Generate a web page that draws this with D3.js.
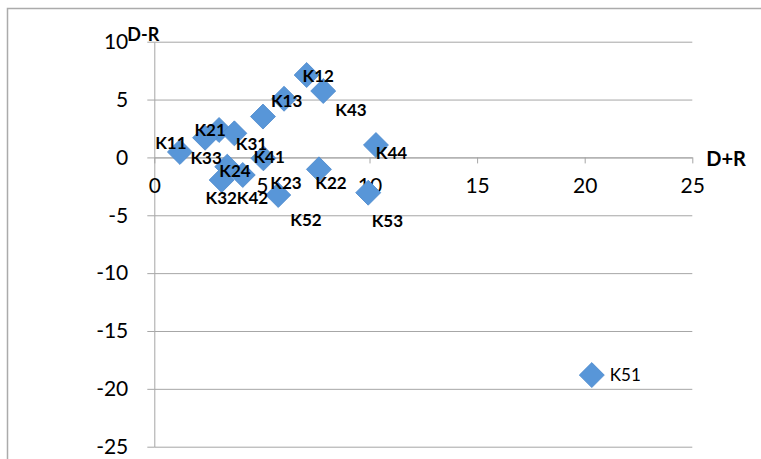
<!DOCTYPE html>
<html>
<head>
<meta charset="utf-8">
<script src="https://cdn.jsdelivr.net/npm/d3@7/dist/d3.min.js"></script>
<style>
  body { margin: 0; background: #fff; }
  svg { display: block; }
  text { font-family: Lato, "Noto Sans", "Liberation Sans", sans-serif; fill: #000; }
</style>
</head>
<body>
<svg id="chart" width="761" height="459"></svg>
<script>
// Factor codes with their prominence (D+R) and relation (D-R) values
const factors = ["K11", "K12", "K13", "K21", "K22", "K23", "K24", "K31", "K32",
                 "K33", "K41", "K42", "K43", "K44", "K51", "K52", "K53"];
const dPlusR  = [1.19, 7.08, 6.03, 3.01, 7.65, 5.05, 3.39, 3.72, 3.13,
                 2.36, 5.07, 4.11, 7.85, 10.30, 20.33, 5.76, 9.94];
const dMinusR = [0.47, 7.12, 5.07, 2.37, -1.03, 3.53, -0.80, 2.08, -1.95,
                 1.70, -0.08, -1.52, 5.74, 1.07, -18.81, -3.25, -3.05];

const xTicks = [0, 5, 10, 15, 20, 25];
const yTicks = [10, 5, 0, -5, -10, -15, -20, -25];
const xTitle = "D+R";
const yTitle = "D-R";

// Hand-placed label nudges (px from the marker centre), so crowded labels stay legible
const labelNudge = {
  K11: [-9, -9.5], K12: [11.6, 0.8], K13: [2.5, 2.3], K21: [-9, 0],
  K22: [12, 13.7], K23: [23, 66.5], K24: [7.7, 4.3], K31: [17.2, 10.7],
  K32: [-0.4, 17.5], K33: [1, 19.8], K41: [5.7, -1.3], K42: [9.8, 22.5],
  K43: [27.7, 19], K44: [15.5, 8], K52: [27.7, 24.5], K53: [19.2, 28.3]
};

const points = factors.map((name, i) => ({ name, x: dPlusR[i], y: dMinusR[i] }));

const svg = d3.select("#chart");
const gray = "#A6A6A6";

const x = d3.scaleLinear().domain([0, 25]).range([154.3, 692.3]);
const y = d3.scaleLinear().domain([-25, 10]).range([446.7, 41.7]);

// chart area frame (left and top edges)
svg.append("path")
  .attr("d", "M7.5,459V8.5H761")
  .attr("fill", "none").attr("stroke", "#ABABAB").attr("stroke-width", 1.5);

// horizontal gridlines
svg.append("g")
  .attr("transform", `translate(${x(0)},0)`)
  .call(d3.axisRight(y).tickValues(yTicks).tickSize(x(25) - x(0)).tickFormat(""))
  .call(g => g.select(".domain").remove())
  .call(g => g.selectAll("line").attr("stroke", gray));

// vertical axis with outside ticks
svg.append("g")
  .attr("transform", `translate(${x(0)},0)`)
  .call(d3.axisLeft(y).tickValues(yTicks).tickSizeInner(7).tickSizeOuter(0)
          .tickPadding(19).tickFormat(d => String(d)))
  .call(g => g.select(".domain").attr("stroke", gray))
  .call(g => g.selectAll("line").attr("stroke", gray))
  .call(g => g.selectAll("text")
    .style("font-family", "Lato, 'Noto Sans', sans-serif")
    .attr("font-size", 21).attr("fill", "#000"));

// horizontal axis along D-R = 0
svg.append("g")
  .attr("transform", `translate(0,${y(0)})`)
  .call(d3.axisBottom(x).tickValues(xTicks).tickSizeInner(6).tickSizeOuter(0)
          .tickPadding(14.6).tickFormat(d => String(d)))
  .call(g => g.select(".domain").attr("stroke", gray))
  .call(g => g.selectAll("line").attr("stroke", gray))
  .call(g => g.selectAll("text")
    .style("font-family", "Lato, 'Noto Sans', sans-serif")
    .attr("font-size", 21).attr("fill", "#000"));

// axis titles
svg.append("text")
  .attr("x", x(0) - 27).attr("y", y(10) - 1)
  .attr("font-size", 18).attr("font-weight", "bold")
  .text(yTitle);
svg.append("text")
  .attr("x", x(25) + 14).attr("y", y(0) + 9)
  .attr("font-size", 20).attr("font-weight", "bold")
  .text(xTitle);

// diamond markers
const diamond = d3.symbol(d3.symbolSquare, 312);
svg.append("g").selectAll("path")
  .data(points)
  .join("path")
  .attr("d", diamond)
  .attr("transform", d => `translate(${x(d.x)},${y(d.y)}) rotate(45)`)
  .attr("fill", "#5896D8")
  .attr("stroke", "#4F8BCD")
  .attr("stroke-width", 0.8);

// data labels
svg.append("g").selectAll("text")
  .data(points)
  .join("text")
  .attr("x", d => labelNudge[d.name] ? x(d.x) + labelNudge[d.name][0] : x(d.x) + 18)
  .attr("y", d => y(d.y) + (labelNudge[d.name] ? labelNudge[d.name][1] : 0))
  .attr("dy", "0.36em")
  .attr("text-anchor", d => labelNudge[d.name] ? "middle" : "start")
  .attr("font-size", 17)
  .attr("font-weight", d => labelNudge[d.name] ? "bold" : "normal")
  .text(d => d.name);
</script>
</body>
</html>
